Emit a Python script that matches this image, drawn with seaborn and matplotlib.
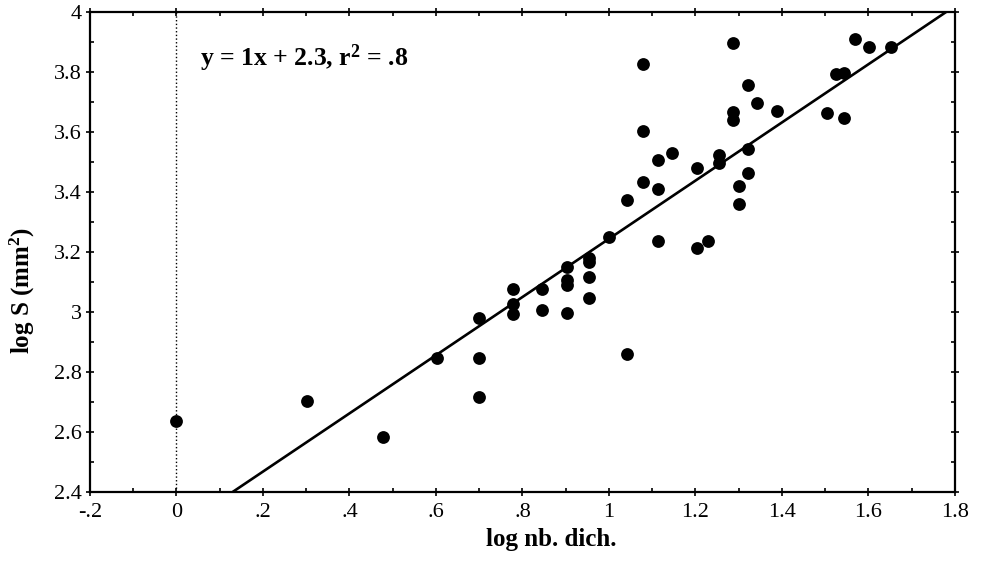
import numpy as np
import pandas as pd
import matplotlib
matplotlib.use("Agg")
import matplotlib.pyplot as plt
from matplotlib.ticker import MultipleLocator
import seaborn as sns

# data
log_dich = [0.0, 0.301, 0.477, 0.602, 0.699, 0.699, 0.699, 0.778, 0.778, 0.778,
            0.845, 0.845, 0.903, 0.903, 0.903, 0.903, 0.954, 0.954, 0.954, 0.954,
            1.0, 1.041, 1.041, 1.079, 1.079, 1.079, 1.114, 1.114, 1.114, 1.146,
            1.204, 1.204, 1.23, 1.255, 1.255, 1.287, 1.287, 1.287, 1.301, 1.301,
            1.322, 1.322, 1.322, 1.342, 1.389, 1.505, 1.525, 1.544, 1.544, 1.568,
            1.602, 1.653]
log_s = [2.636, 2.703, 2.583, 2.847, 2.98, 2.847, 2.717, 3.077, 3.027, 2.993,
         3.077, 3.005, 3.15, 3.107, 3.09, 2.997, 3.18, 3.165, 3.117, 3.047,
         3.25, 3.373, 2.86, 3.433, 3.603, 3.827, 3.507, 3.41, 3.235, 3.53,
         3.48, 3.213, 3.235, 3.523, 3.497, 3.897, 3.667, 3.64, 3.42, 3.36,
         3.757, 3.545, 3.463, 3.697, 3.67, 3.663, 3.793, 3.797, 3.647, 3.91,
         3.883, 3.883]

# regression line as drawn
slope = 0.97
intercept = 2.274
fit_range = [0.13, 1.8]

x_ticks = [-0.2, 0, 0.2, 0.4, 0.6, 0.8, 1.0, 1.2, 1.4, 1.6, 1.8]
x_tick_labels = ["-.2", "0", ".2", ".4", ".6", ".8", "1", "1.2", "1.4", "1.6", "1.8"]
y_ticks = [2.4, 2.6, 2.8, 3.0, 3.2, 3.4, 3.6, 3.8, 4.0]
y_tick_labels = ["2.4", "2.6", "2.8", "3", "3.2", "3.4", "3.6", "3.8", "4"]

df = pd.DataFrame({"log_dich": log_dich, "log_s": log_s})

sns.set_style("ticks")
plt.rcParams["font.family"] = ["Liberation Serif", "DejaVu Serif"]
plt.rcParams["mathtext.fontset"] = "custom"
plt.rcParams["mathtext.rm"] = "Liberation Serif"
plt.rcParams["mathtext.bf"] = "Liberation Serif:bold"
plt.rcParams["text.color"] = "black"
plt.rcParams["axes.labelcolor"] = "black"

fig = plt.figure(figsize=(9.81, 5.64), dpi=100)
ax = fig.add_axes([0.0917, 0.1277, 0.8818, 0.851])

# dotted line at x = 0
ax.axvline(0, color="black", lw=1.0, ls=":", zorder=1)

sns.scatterplot(data=df, x="log_dich", y="log_s", ax=ax, color="black",
                s=85, edgecolor="black", linewidth=0, zorder=3)

xs = np.array(fit_range)
ax.plot(xs, slope * xs + intercept, color="black", lw=1.9, zorder=2)

ax.set_xlim(-0.2, 1.8)
ax.set_ylim(2.4, 4.0)
ax.set_xticks(x_ticks)
ax.set_xticklabels(x_tick_labels)
ax.set_yticks(y_ticks)
ax.set_yticklabels(y_tick_labels)
ax.xaxis.set_minor_locator(MultipleLocator(0.1))
ax.yaxis.set_minor_locator(MultipleLocator(0.1))
ax.tick_params(which="major", direction="inout", length=6, width=1.2,
               top=True, right=True, labelsize=16, colors="black", pad=3)
ax.tick_params(axis="x", which="major", pad=5)
ax.tick_params(which="minor", direction="in", length=3, width=1.2,
               top=True, right=True, colors="black")
for sp in ax.spines.values():
    sp.set_visible(True)
    sp.set_linewidth(1.6)
    sp.set_color("black")

ax.set_xlabel("log nb. dich.", fontsize=18, fontweight="bold", color="black")
ax.set_ylabel("log S (mm$\\mathbf{^2}$)", fontsize=18, fontweight="bold", color="black")
ax.xaxis.set_label_coords(0.533, -0.076)
ax.yaxis.set_label_coords(-0.061, 0.419)

ax.text(0.054, 3.845, "y = 1x + 2.3, r$\\mathbf{^2}$ = .8", fontsize=18.5,
        fontweight="bold", va="center", ha="left", color="black")

plt.savefig("out.png", dpi=100)
